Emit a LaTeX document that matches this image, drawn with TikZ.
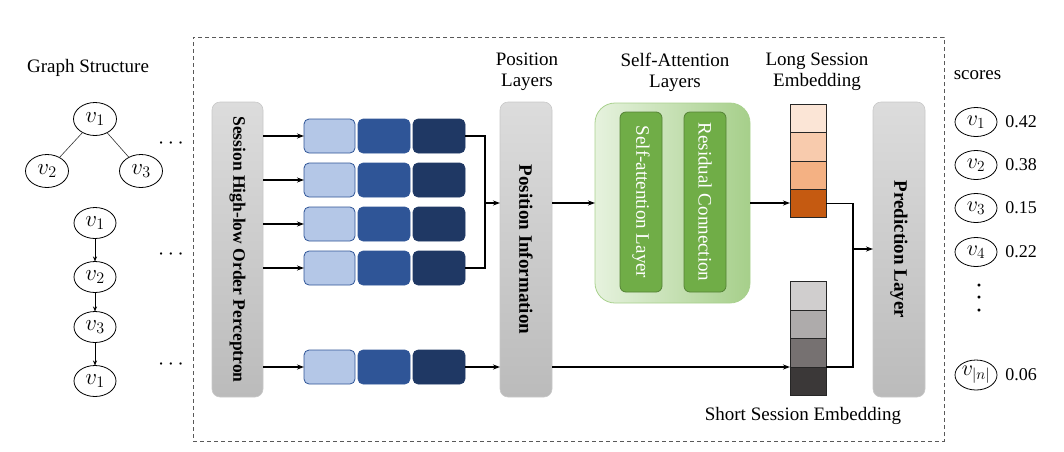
\RequirePackage{fix-cm}
\documentclass[tikz,border=0pt]{standalone}
\usepackage{fontspec}
\setmainfont{Liberation Serif}
\usetikzlibrary{arrows.meta,shapes.geometric}
\definecolor{gtop}{HTML}{DCDCDC}
\definecolor{gbot}{HTML}{BBBBBB}
\definecolor{gbd}{HTML}{C8C8C8}
\definecolor{lblue}{HTML}{B4C7E7}
\definecolor{mblue}{HTML}{2F5597}
\definecolor{dblue}{HTML}{1F3864}
\definecolor{gl}{HTML}{E6F2DE}
\definecolor{gr}{HTML}{A6CF8A}
\definecolor{gbrd}{HTML}{A9D18E}
\definecolor{ing}{HTML}{70AD47}
\definecolor{ingd}{HTML}{548235}
\definecolor{orA}{HTML}{FBE5D6}
\definecolor{orB}{HTML}{F8CBAD}
\definecolor{orC}{HTML}{F4B183}
\definecolor{orD}{HTML}{C55A11}
\definecolor{grA}{HTML}{D0CECE}
\definecolor{grB}{HTML}{AEABAB}
\definecolor{grC}{HTML}{767171}
\definecolor{grD}{HTML}{3B3838}
\begin{document}
\begin{tikzpicture}[x=1pt,y=-1pt,
  every node/.style={inner sep=0pt,outer sep=0pt},
  font=\fontsize{19}{21}\selectfont,
  vell/.style={ellipse,draw=black,line width=0.8pt,fill=white,font=\fontsize{23}{23}\selectfont},
  tedge/.style={line width=0.6pt,draw=black!80},
  carrow/.style={line width=0.6pt,-{Stealth[length=5pt,width=4pt]}},
  conn/.style={line width=1.2pt,-{Stealth[length=7pt,width=5pt]}},
  wire/.style={line width=1.2pt},
  graybox/.style={rounded corners=8pt,draw=gbd,line width=0.6pt,top color=gtop,bottom color=gbot,minimum width=51pt,minimum height=295pt},
  boxtext/.style={rotate=-90,font=\bfseries\fontsize{19}{21}\selectfont},
  lb/.style={rounded corners=5pt,fill=lblue,draw=mblue,line width=0.8pt,minimum width=51pt,minimum height=34pt},
  mb/.style={rounded corners=5pt,fill=mblue,draw=mblue,line width=0.6pt,minimum width=52pt,minimum height=34pt},
  db/.style={rounded corners=5pt,fill=dblue,draw=dblue,line width=0.6pt,minimum width=52pt,minimum height=34pt},
  inbox/.style={rounded corners=6pt,fill=ing,draw=ingd,line width=0.8pt,minimum width=42pt,minimum height=180pt},
  cell/.style={draw=black!85,line width=0.8pt,minimum width=36pt,minimum height=28.25pt},
  sell/.style={ellipse,draw=black,line width=0.8pt,minimum width=42pt,minimum height=29pt,font=\fontsize{22}{22}\selectfont},
  dots/.style={font=\fontsize{22}{22}\selectfont},
  score/.style={font=\fontsize{18}{20}\selectfont},
  frame/.style={draw=black!65,dashed,dash pattern=on 4pt off 3pt,line width=0.8pt}]
\useasboundingbox (0,0) rectangle (1064,451);

% dashed frame
\node[frame,minimum width=751pt,minimum height=404pt] (frm) at (568.5,239) {};

% graph structure
\node (gs) at (88,68) {Graph Structure};
\node[vell,minimum width=43pt,minimum height=33pt] (t1) at (95,119) {$v_1$};
\node[vell,minimum width=43pt,minimum height=33pt] (t2) at (47,171) {$v_2$};
\node[vell,minimum width=43pt,minimum height=33pt] (t3) at (141,171) {$v_3$};
\draw[tedge] (t1) -- (t2);
\draw[tedge] (t1) -- (t3);
\node[vell,minimum width=42pt,minimum height=31pt] (c1) at (95,223) {$v_1$};
\node[vell,minimum width=42pt,minimum height=31pt] (c2) at (95,277) {$v_2$};
\node[vell,minimum width=42pt,minimum height=31pt] (c3) at (95,327) {$v_3$};
\node[vell,minimum width=42pt,minimum height=31pt] (c4) at (95,381) {$v_1$};
\draw[carrow] (c1) -- (c2);
\draw[carrow] (c2) -- (c3);
\draw[carrow] (c3) -- (c4);
\node[dots] (d1) at (171,144) {$\cdots$};
\node[dots] (d2) at (171,255) {$\cdots$};
\node[dots] (d3) at (171,365) {$\cdots$};

% session perceptron
\node[graybox] (sess) at (237.5,249.5) {};
\node[boxtext,font=\bfseries\fontsize{17.5}{20}\selectfont] (sesst) at (sess) {Session High-low Order Perceptron};

% blue rows
\foreach \i/\y in {1/136,2/180,3/224,4/268,5/367}{
  \node[lb] (l\i) at (329.5,\y) {};
  \node[mb] (m\i) at (384,\y) {};
  \node[db] (k\i) at (439,\y) {};
  \draw[conn] (sess.east |- l\i) -- (l\i.west);
}

% position
\node[graybox,minimum width=52pt] (pos) at (526,249.5) {};
\node[boxtext] (post) at (pos) {Position Information};
\node[align=center] (posl) at (527,72) {Position\\Layers};

\coordinate (j1) at (485,203);
\draw[wire] (k1.east) -| (j1);
\draw[wire] (k4.east) -| (j1);
\draw[conn] (j1) -- (pos.west |- j1);

% self-attention
\node[rounded corners=20pt,left color=gl,right color=gr,draw=gbrd,line width=0.8pt,minimum width=155pt,minimum height=200pt] (sa) at (672.5,203) {};
\node[inbox] (sal) at (641,202) {};
\node[rotate=-90,text=white] (salt) at (sal) {Self-attention Layer};
\node[inbox] (rc) at (705,202) {};
\node[rotate=-90,text=white] (rct) at (rc) {Residual Connection};
\node[align=center] (sat) at (675,72) {Self-Attention\\Layers};
\draw[conn] (pos.east |- sa) -- (sa.west);

% long session embedding
\node[cell,fill=orA] (lo1) at (808,118.625) {};
\node[cell,fill=orB] (lo2) at (808,146.875) {};
\node[cell,fill=orC] (lo3) at (808,175.125) {};
\node[cell,fill=orD] (lo4) at (808,203.375) {};
\node[align=center] (lol) at (817,72) {Long Session\\Embedding};
\draw[conn] (sa.east) -- (sa.east -| lo4.west);

% short session embedding
\node[cell,fill=grA,minimum height=28.5pt] (sh1) at (808,295.75) {};
\node[cell,fill=grB,minimum height=28.5pt] (sh2) at (808,324.25) {};
\node[cell,fill=grC,minimum height=28.5pt] (sh3) at (808,352.75) {};
\node[cell,fill=grD,minimum height=28.5pt] (sh4) at (808,381.25) {};
\node (shl) at (803,416) {Short Session Embedding};
\draw[conn] (pos.east |- sh4.north west) -- (sh4.north west);
\draw[conn] (k5.east) -- (pos.west |- k5);

% prediction
\node[graybox,minimum width=52pt] (pred) at (899,249.5) {};
\node[boxtext] (predt) at (pred) {Prediction Layer};
\coordinate (j2) at (853,249);
\draw[wire] (lo4.east) -| (j2);
\draw[wire] (sh4.north east) -| (j2);
\draw[conn] (j2) -- (pred.west |- j2);

% scores
\node (sc) at (977.5,75) {scores};
\node[sell] (s1) at (976,122) {$v_1$};
\node[sell] (s2) at (976,165) {$v_2$};
\node[sell] (s3) at (976,208) {$v_3$};
\node[sell] (s4) at (976,252) {$v_4$};
\node[sell,minimum height=30pt] (s5) at (976,375) {$v_{|n|}$};
\node[score] (n1) at (1021,122) {0.42};
\node[score] (n2) at (1021,165) {0.38};
\node[score] (n3) at (1021,208) {0.15};
\node[score] (n4) at (1021,252) {0.22};
\node[score] (n5) at (1021,375) {0.06};
\node[align=center,font=\bfseries\fontsize{18}{12.5}\selectfont] (vd) at (979,300) {·\\·\\·};
\end{tikzpicture}
\end{document}
